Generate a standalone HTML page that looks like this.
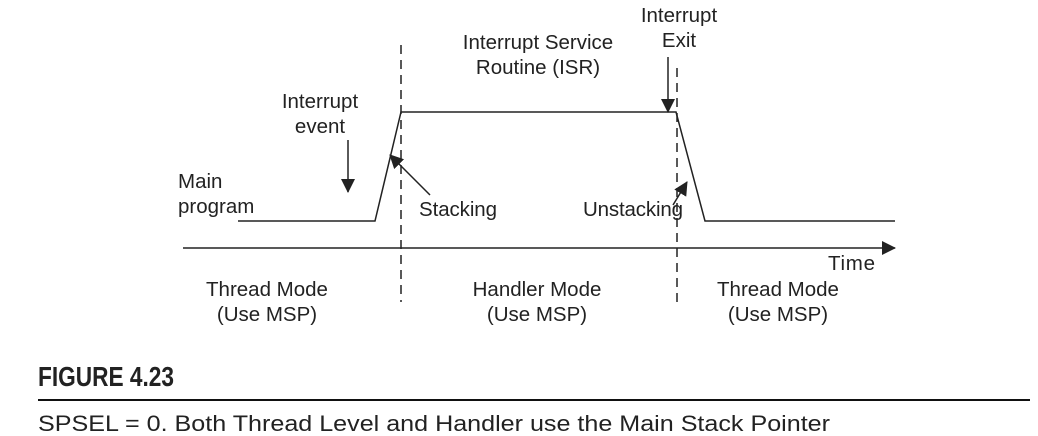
<!DOCTYPE html>
<html><head><meta charset="utf-8"><style>
html,body{margin:0;padding:0;background:#fff;width:1038px;height:436px;overflow:hidden}
svg text{font-family:"Liberation Sans",sans-serif;fill:#222}
</style></head><body>
<svg width="1038" height="436" viewBox="0 0 1038 436" xmlns="http://www.w3.org/2000/svg">
<defs><marker id="b" markerWidth="14" markerHeight="14" refX="13" refY="7" orient="auto" markerUnits="userSpaceOnUse" viewBox="0 0 14 14"><path d="M0,0 L14,7 L0,14z" fill="#222"/></marker></defs>
<g stroke="#222" stroke-width="1.5" fill="none">
<polyline points="238,221 375,221 401,112 676,112 705,221 895,221"/>
<line x1="183" y1="248" x2="895" y2="248" marker-end="url(#b)"/>
<line x1="401" y1="45" x2="401" y2="302" stroke-dasharray="9,6"/>
<line x1="677" y1="68" x2="677" y2="302" stroke-dasharray="9,6"/>
<line x1="348" y1="140" x2="348" y2="192" marker-end="url(#b)"/>
<line x1="668" y1="57" x2="668" y2="112" marker-end="url(#b)"/>
<line x1="430" y1="195" x2="390" y2="155" marker-end="url(#b)"/>
<line x1="673" y1="205" x2="687" y2="182" marker-end="url(#b)"/>
</g>
<g font-size="20.5">
<text x="178" y="188">Main</text><text x="178" y="213">program</text>
<text x="320" y="108" text-anchor="middle">Interrupt</text><text x="320" y="133" text-anchor="middle">event</text>
<text x="538" y="49" text-anchor="middle">Interrupt Service</text><text x="538" y="74" text-anchor="middle">Routine (ISR)</text>
<text x="679" y="22" text-anchor="middle">Interrupt</text><text x="679" y="47" text-anchor="middle">Exit</text>
<text x="419" y="216" textLength="78">Stacking</text>
<text x="583" y="216" textLength="100">Unstacking</text>
<text x="828" y="270" textLength="47">Time</text>
<text x="267" y="296" text-anchor="middle">Thread Mode</text><text x="267" y="321" text-anchor="middle">(Use MSP)</text>
<text x="537" y="296" text-anchor="middle">Handler Mode</text><text x="537" y="321" text-anchor="middle">(Use MSP)</text>
<text x="778" y="296" text-anchor="middle">Thread Mode</text><text x="778" y="321" text-anchor="middle">(Use MSP)</text>
</g>
<text x="38" y="386" font-size="28" font-weight="bold" textLength="136" lengthAdjust="spacingAndGlyphs" fill="#111">FIGURE 4.23</text>
<line x1="38" y1="400" x2="1030" y2="400" stroke="#111" stroke-width="2"/>
<text x="38" y="431" font-size="22" textLength="792" lengthAdjust="spacingAndGlyphs">SPSEL = 0. Both Thread Level and Handler use the Main Stack Pointer</text>
</svg>
</body></html>
